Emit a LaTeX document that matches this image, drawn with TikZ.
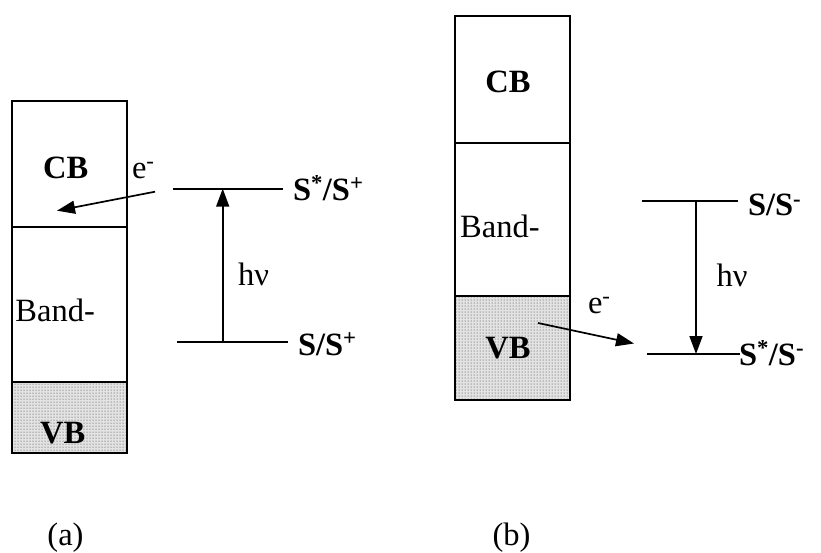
\documentclass[tikz,border=0pt]{standalone}
\usepackage{fontspec}
\setmainfont{Liberation Serif}
\usetikzlibrary{arrows.meta,patterns}
\begin{document}
\begin{tikzpicture}[x=1pt,y=-1pt,
  every node/.style={inner sep=0pt,outer sep=0pt,font=\fontsize{32.5}{36}\selectfont},
  band/.style={draw=black,line width=1.7pt},
  vb/.style={band,pattern=dots,pattern color=black!80},
  lvl/.style={line width=1.7pt},
  arr/.style={line width=1.7pt,-{Triangle[length=18pt,width=13pt]}},
  lbl/.style={anchor=base west},
  ctr/.style={anchor=base},
  bold/.style={font=\fontsize{32.5}{36}\selectfont\bfseries}]
\useasboundingbox (0,0) rectangle (821,552);
% ---------- (a) ----------
\fill[gray!22] (11.7,381.7) rectangle (127,452.7);
\draw[vb] (11.7,381.7) rectangle (127,452.7);
\draw[band] (11.7,100.7) rectangle (127,226.7);
\draw[band] (11.7,226.7) rectangle (127,381.7);
\node[ctr,bold] (cbA) at (65.7,178.3) {CB};
\node[lbl] (bandA) at (15.5,321.7) {Band-};
\node[ctr,bold] (vbA) at (62.7,443.3) {VB};
\coordinate (a1) at (173,188.7);
\coordinate (a2) at (283,188.7);
\coordinate (a3) at (177,341.7);
\coordinate (a4) at (288,341.7);
\coordinate (aup) at (222.7,188.7);
\coordinate (adn) at (222.7,341.7);
\draw[lvl] (a1) -- (a2);
\draw[lvl] (a3) -- (a4);
\draw[arr] (adn) -- (aup);
\node[lbl,bold] (sA1) at (293,200) {S\textsuperscript{*}/S\textsuperscript{+}};
\node[lbl,bold] (sA2) at (298,355) {S/S\textsuperscript{+}};
\node[lbl] (hvA) at (238,285) {hν};
\node[lbl] (eA) at (132,178) {e\textsuperscript{-}};
\coordinate (eAs) at (155,191.7);
\coordinate (eAe) at (57,210.7);
\draw[arr] (eAs) -- (eAe);
\node[ctr] (capA) at (65.5,545) {(a)};
% ---------- (b) ----------
\fill[gray!22] (455,296) rectangle (570,400);
\draw[vb] (455,296) rectangle (570,400);
\draw[band] (455,16) rectangle (570,142.7);
\draw[band] (455,142.7) rectangle (570,296);
\node[ctr,bold] (cbB) at (508,92.7) {CB};
\node[lbl] (bandB) at (460.2,237.3) {Band-};
\node[ctr,bold] (vbB) at (508,358.3) {VB};
\coordinate (b1) at (642,200.7);
\coordinate (b2) at (738,200.7);
\coordinate (b3) at (647,354);
\coordinate (b4) at (740,354);
\coordinate (bup) at (696,200.7);
\coordinate (bdn) at (696,354);
\draw[lvl] (b1) -- (b2);
\draw[lvl] (b3) -- (b4);
\draw[arr] (bup) -- (bdn);
\node[lbl,bold] (sB1) at (748,215.7) {S/S\textsuperscript{-}};
\node[lbl,bold] (sB2) at (739,365) {S\textsuperscript{*}/S\textsuperscript{-}};
\node[lbl] (hvB) at (716.7,286) {hν};
\node[lbl] (eB) at (588,313) {e\textsuperscript{-}};
\coordinate (eBs) at (538,323);
\coordinate (eBe) at (634,343.5);
\draw[arr] (eBs) -- (eBe);
\node[ctr] (capB) at (511.5,545) {(b)};
\end{tikzpicture}
\end{document}
